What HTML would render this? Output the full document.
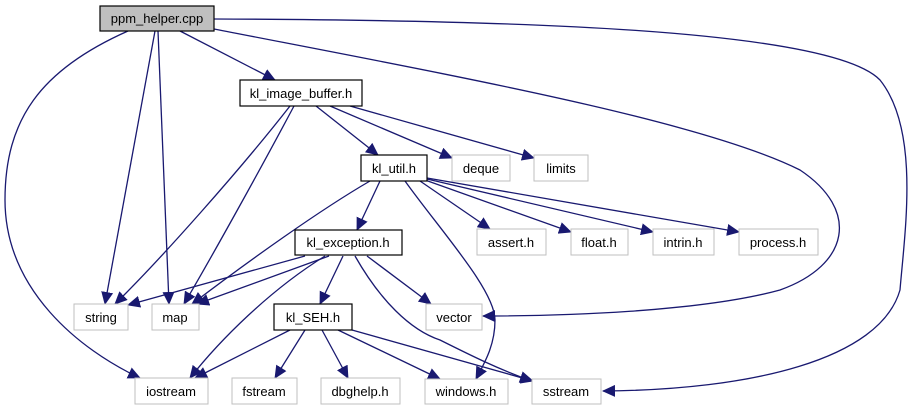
<!DOCTYPE html>
<html><head><meta charset="utf-8"><style>
html,body{margin:0;padding:0;background:#fff;}
svg{display:block;}
text{font-family:"Liberation Sans",Arial,sans-serif;font-size:13px;fill:#000;text-anchor:middle;}
.e{fill:none;stroke:#191970;stroke-width:1.3;marker-end:url(#a);}
.g{fill:#fff;stroke:#bfbfbf;stroke-width:1;}
.b{fill:#fff;stroke:#000;stroke-width:1.2;}
</style></head><body>
<svg width="912" height="411" viewBox="0 0 912 411" xmlns="http://www.w3.org/2000/svg">
<defs><marker id="a" markerWidth="13" markerHeight="12" refX="12" refY="6" orient="auto" markerUnits="userSpaceOnUse"><path d="M0,0 L13,6 L0,12 z" fill="#191970"/></marker></defs>
<path class="e" d="M180,31 L275,80"/>
<path class="e" d="M155,31 L105,304"/>
<path class="e" d="M158,31 L169,304"/>
<path class="e" d="M128,31 C40,70 5,120 5,200 C5,290 80,350 140,378"/>
<path class="e" d="M214,29 C450,75 700,120 800,170 C860,210 850,265 780,290 C700,312 560,316 483,316"/>
<path class="e" d="M214,19 C500,20 830,28 880,80 C920,130 905,230 900,290 C880,360 750,390 603,391"/>
<path class="e" d="M316,106 L378,155"/>
<path class="e" d="M330,106 L452,158"/>
<path class="e" d="M350,106 L534,158"/>
<path class="e" d="M290,106 C240,170 160,260 115,304"/>
<path class="e" d="M294,106 C260,170 210,260 184,304"/>
<path class="e" d="M380,181 L357,230"/>
<path class="e" d="M370,181 C320,210 250,260 192,304"/>
<path class="e" d="M405,181 C440,230 495,290 495,320 C495,345 485,362 476,379"/>
<path class="e" d="M420,181 L490,229"/>
<path class="e" d="M425,180 L571,232"/>
<path class="e" d="M427,179 L653,232"/>
<path class="e" d="M427,178 L739,232"/>
<path class="e" d="M305,256 L128,305"/>
<path class="e" d="M329,256 L197,304"/>
<path class="e" d="M325,256 C270,290 220,340 190,378"/>
<path class="e" d="M343,256 L320,304"/>
<path class="e" d="M367,256 L431,304"/>
<path class="e" d="M355,256 C380,300 410,330 440,340 C470,355 500,370 532,381"/>
<path class="e" d="M290,330 L195,378"/>
<path class="e" d="M305,330 L275,378"/>
<path class="e" d="M322,330 L348,378"/>
<path class="e" d="M338,330 L440,379"/>
<path class="e" d="M352,330 L533,381"/>

<rect x="100" y="6" width="114" height="25" fill="#bfbfbf" stroke="#000" stroke-width="1.2"/><text x="157" y="23">ppm_helper.cpp</text>
<rect class="b" x="240" y="80" width="122" height="26"/><text x="301" y="98">kl_image_buffer.h</text>
<rect class="b" x="361" y="155" width="66" height="26"/><text x="394" y="173">kl_util.h</text>
<rect class="g" x="452" y="155" width="58" height="26"/><text x="481" y="173">deque</text>
<rect class="g" x="534" y="155" width="54" height="26"/><text x="561" y="173">limits</text>
<rect class="g" x="477" y="229" width="69" height="26"/><text x="511" y="247">assert.h</text>
<rect class="g" x="571" y="229" width="57" height="26"/><text x="599" y="247">float.h</text>
<rect class="g" x="653" y="229" width="61" height="26"/><text x="683" y="247">intrin.h</text>
<rect class="g" x="739" y="229" width="79" height="26"/><text x="778" y="247">process.h</text>
<rect class="b" x="295" y="230" width="107" height="25"/><text x="348" y="247">kl_exception.h</text>
<rect class="g" x="74" y="304" width="54" height="26"/><text x="101" y="322">string</text>
<rect class="g" x="152" y="304" width="47" height="26"/><text x="175" y="322">map</text>
<rect class="b" x="274" y="304" width="78" height="26"/><text x="313" y="322">kl_SEH.h</text>
<rect class="g" x="426" y="304" width="56" height="26"/><text x="454" y="322">vector</text>
<rect class="g" x="135" y="378" width="73" height="26"/><text x="171" y="396">iostream</text>
<rect class="g" x="232" y="378" width="65" height="26"/><text x="264" y="396">fstream</text>
<rect class="g" x="321" y="378" width="79" height="26"/><text x="360" y="396">dbghelp.h</text>
<rect class="g" x="425" y="379" width="83" height="25"/><text x="466" y="396">windows.h</text>
<rect class="g" x="532" y="379" width="69" height="25"/><text x="566" y="396">sstream</text>
</svg>
</body></html>
